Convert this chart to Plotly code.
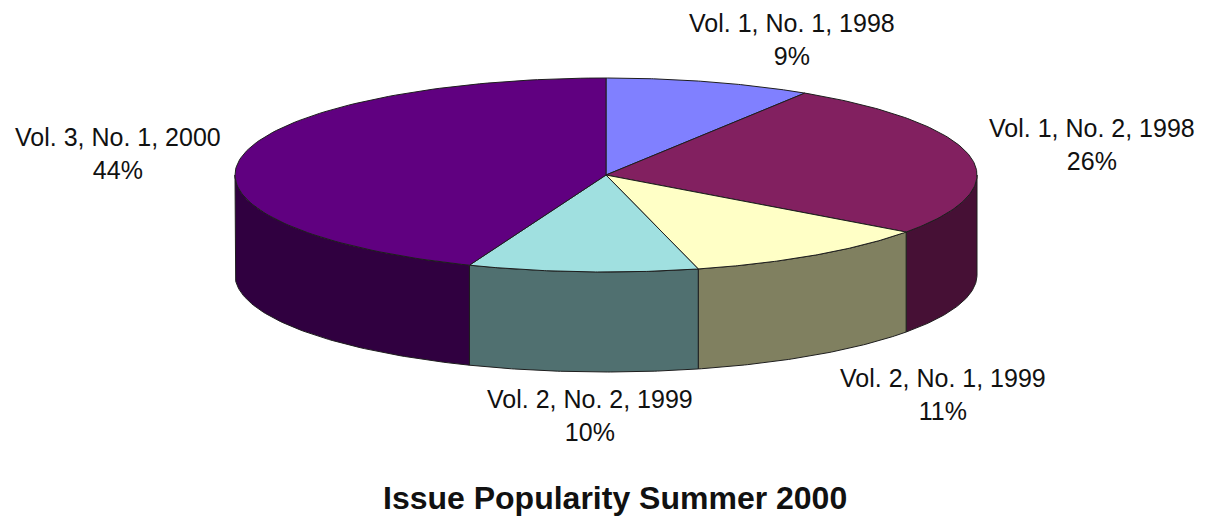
import numpy as np
import plotly.graph_objects as go

# ---- data ----
labels = ["Vol. 1, No. 1, 1998", "Vol. 1, No. 2, 1998", "Vol. 2, No. 1, 1999",
          "Vol. 2, No. 2, 1999", "Vol. 3, No. 1, 2000"]
percent = [9, 26, 11, 10, 44]
title_text = "Issue Popularity Summer 2000"

# ---- styles ----
top_colors = ["#8080FF", "#822060", "#FFFFC6", "#A0E0E0", "#600080"]
side_colors = ["#404080", "#461035", "#808060", "#507070", "#300040"]
label_pos = [(792, 39), (1092, 144), (943, 394), (590, 415), (118, 153)]

W, H = 1206, 518
cx, cy, a, b, depth = 606, 175, 371, 97, 100
edge = "#1e1e1e"


def ell(theta_deg, dy=0.0):
    t = np.radians(theta_deg)
    return cx + a * np.sin(t), cy - b * np.cos(t) + dy


fig = go.Figure()
total = float(sum(percent))
bounds = np.concatenate([[0], np.cumsum(percent)]) / total * 360.0

# side faces (front half only visible: 90..270 degrees clockwise from top)
for i in range(len(percent)):
    t0, t1 = bounds[i], bounds[i + 1]
    s0, s1 = max(t0, 90.0), min(t1, 270.0)
    if s1 <= s0:
        continue
    th = np.linspace(s0, s1, 80)
    xt, yt = ell(th)
    xb, yb = ell(th[::-1], depth)
    xs = np.concatenate([xt, xb, [xt[0]]])
    ys = np.concatenate([yt, yb, [yt[0]]])
    fig.add_trace(go.Scatter(x=xs, y=ys, mode="lines", fill="toself",
                             fillcolor=side_colors[i],
                             line=dict(color=edge, width=1),
                             hoverinfo="skip", showlegend=False))

# top faces
for i in range(len(percent)):
    t0, t1 = bounds[i], bounds[i + 1]
    th = np.linspace(t0, t1, 120)
    xt, yt = ell(th)
    xs = np.concatenate([[cx], xt, [cx]])
    ys = np.concatenate([[cy], yt, [cy]])
    fig.add_trace(go.Scatter(x=xs, y=ys, mode="lines", fill="toself",
                             fillcolor=top_colors[i],
                             line=dict(color=edge, width=1),
                             hoverinfo="skip", showlegend=False))

font_family = "Liberation Sans, Arial, sans-serif"
for i in range(len(percent)):
    x, y = label_pos[i]
    fig.add_annotation(x=x, y=y, xref="x", yref="y",
                       text=f"{labels[i]}<br>{percent[i]}%",
                       showarrow=False, align="center",
                       font=dict(family=font_family, size=25, color="#111111"))

fig.add_annotation(x=615, y=498, xref="x", yref="y", text=f"<b>{title_text}</b>",
                   showarrow=False, font=dict(family=font_family, size=32, color="#111111"))

fig.update_xaxes(range=[0, W], visible=False, fixedrange=True)
fig.update_yaxes(range=[H, 0], visible=False, fixedrange=True)
fig.update_layout(width=W, height=H, margin=dict(l=0, r=0, t=0, b=0),
                  paper_bgcolor="white", plot_bgcolor="white", showlegend=False)

fig.write_html("out.html")
